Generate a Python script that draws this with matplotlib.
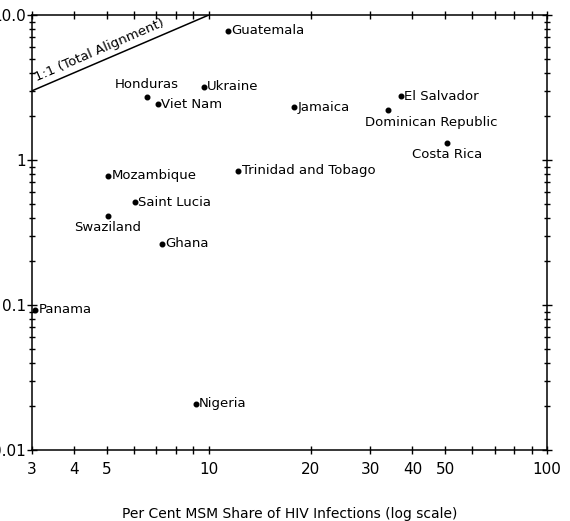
import numpy as np
import matplotlib
matplotlib.use('Agg')
import matplotlib.pyplot as plt
from matplotlib.ticker import LogLocator, NullFormatter, FixedLocator, FixedFormatter

countries = ['Guatemala', 'Ukraine', 'Honduras', 'Viet Nam', 'Jamaica', 'El Salvador',
             'Dominican Republic', 'Costa Rica', 'Trinidad and Tobago', 'Mozambique',
             'Saint Lucia', 'Swaziland', 'Ghana', 'Panama', 'Nigeria']
msm_share = [11.4, 9.65, 6.55, 7.06, 17.9, 37.0, 33.9, 50.6, 12.2, 5.03, 6.04, 5.03, 7.25, 3.06, 9.14]
spend_share = [7.76, 3.19, 2.72, 2.43, 2.32, 2.76, 2.21, 1.31, 0.84, 0.776, 0.513, 0.411, 0.264, 0.0924, 0.0208]
# label placement: (dx, dy) in pixels, horizontal alignment, vertical alignment
placement = {
    'Honduras': (0, 6, 'center', 'bottom'),
    'Swaziland': (0, -5, 'center', 'top'),
    'Dominican Republic': (43, -6, 'center', 'top'),
    'Costa Rica': (0, -5, 'center', 'top'),
}

fig = plt.figure(figsize=(5.7, 5.21), dpi=100)
ax = fig.add_axes([32/570, 71/521, 515/570, 435/521])

ax.plot(msm_share, spend_share, 'o', color='black', markersize=3.3, zorder=3)
for name, x, y in zip(countries, msm_share, spend_share):
    dx, dy, ha, va = placement.get(name, (3.5, 0, 'left', 'center'))
    ax.annotate(name, (x, y), xytext=(dx * 0.72, dy * 0.72), textcoords='offset points',
                ha=ha, va=va, fontsize=9.5)

# 1:1 line
ax.plot([3, 10], [3, 10], color='black', lw=1.1)
ax.text(3.12, 3.35, '1:1 (Total Alignment)', rotation=23.5, rotation_mode='anchor',
        ha='left', va='bottom', fontsize=9.5)

ax.set_xscale('log')
ax.set_yscale('log')
ax.set_xlim(3, 100)
ax.set_ylim(0.01, 10)

xt = [3, 4, 5, 10, 20, 30, 40, 50, 100]
ax.xaxis.set_major_locator(FixedLocator(xt))
ax.xaxis.set_major_formatter(FixedFormatter([str(v) for v in xt]))
ax.xaxis.set_minor_locator(LogLocator(base=10, subs=np.arange(1, 10)))
ax.xaxis.set_minor_formatter(NullFormatter())

yt = [0.01, 0.1, 1, 10]
ax.yaxis.set_major_locator(FixedLocator(yt))
ax.yaxis.set_major_formatter(FixedFormatter(['0.01', '0.1', '1', '10.0']))
ax.yaxis.set_minor_locator(LogLocator(base=10, subs=np.arange(2, 10)))
ax.yaxis.set_minor_formatter(NullFormatter())

ax.tick_params(which='both', direction='inout', top=True, right=True, labelsize=11, width=1)
ax.tick_params(axis='x', which='both', length=6, pad=6)
ax.tick_params(axis='y', which='major', length=7, pad=1)
ax.tick_params(axis='y', which='minor', length=4)
for s in ax.spines.values():
    s.set_linewidth(1.1)

ax.set_xlabel('Per Cent MSM Share of HIV Infections (log scale)', fontsize=10, labelpad=21)

fig.savefig('out.png', dpi=100)
